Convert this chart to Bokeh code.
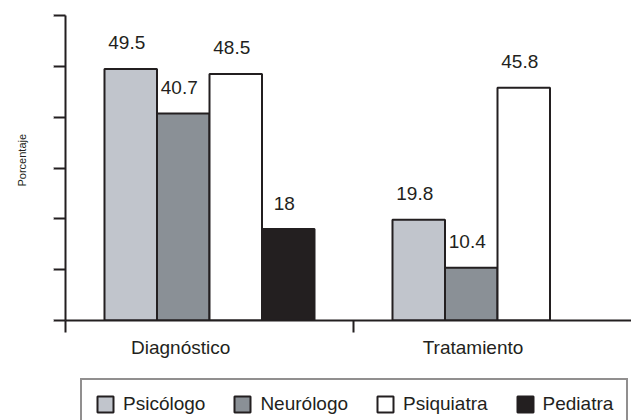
from bokeh.plotting import figure
from bokeh.layouts import column
from bokeh.models import ColumnDataSource, FixedTicker, Range1d, Legend, LegendItem, Title, LinearAxis
from bokeh.embed import file_html
from bokeh.resources import INLINE
from bokeh.core.properties import value
import math

categories = ["Diagnóstico", "Tratamiento"]
series = ["Psicólogo", "Neurólogo", "Psiquiatra", "Pediatra"]
psicologo = [49.5, 19.8]
neurologo = [40.7, 10.4]
psiquiatra = [48.5, 45.8]
pediatra = [18.0, float("nan")]
y_ticks = [0, 10, 20, 30, 40, 50, 60]
y_title = "Porcentaje"

values = [psicologo, neurologo, psiquiatra, pediatra]
colors = ["#c1c5cc", "#8a9096", "#ffffff", "#231f20"]
INK = "#231f20"
FONT = "Liberation Sans"
FS = "19px"

BAR_W = 0.1823
FIRST = 0.5 - 1.5 * BAR_W

p = figure(width=631, height=360, output_backend="svg", toolbar_location=None,
           x_range=Range1d(0, (631 - 65) / 288), y_range=Range1d(0, 60),
           min_border_left=65, min_border_right=0, min_border_top=15, min_border_bottom=38)
p.outline_line_color = None
p.xgrid.visible = False
p.ygrid.visible = False
p.background_fill_color = "white"
p.border_fill_color = "white"

for k, (name, vals, col) in enumerate(zip(series, values, colors)):
    xs = [i + FIRST + k * BAR_W for i in range(len(categories))]
    src = ColumnDataSource(dict(x=xs, top=vals))
    p.vbar(x="x", top="top", width=BAR_W, bottom=0, source=src,
           fill_color=col, line_color=INK, line_width=2)
    keep = [j for j, v in enumerate(vals) if not math.isnan(v)]
    lsrc = ColumnDataSource(dict(x=[xs[j] for j in keep], y=[vals[j] for j in keep],
                                 label=[f"{vals[j]:g}" for j in keep]))
    p.text(x="x", y="y", text="label", source=lsrc, text_align="center",
           text_baseline="alphabetic", y_offset=-26, x_offset=-4,
           text_font=value(FONT), text_font_size=FS, text_color=INK)

# y axis
ya = p.yaxis[0]
ya.ticker = FixedTicker(ticks=y_ticks)
ya.major_label_overrides = {t: "" for t in y_ticks}
ya.major_label_standoff = 0
ya.major_tick_out = 12
ya.major_tick_in = 0
ya.minor_tick_line_color = None
ya.axis_line_width = 2
ya.major_tick_line_width = 2
ya.axis_line_color = INK
ya.major_tick_line_color = INK

# blank spacer axis (white ticks on white) that keeps the y title away from the axis
spacer = LinearAxis(ticker=FixedTicker(ticks=y_ticks),
                    major_label_overrides={t: "" for t in y_ticks},
                    major_label_standoff=0, major_tick_out=13, major_tick_in=0,
                    major_tick_line_color="white", minor_tick_line_color=None,
                    axis_line_color=None)
p.add_layout(spacer, "left")

p.add_layout(Title(text=y_title, text_font=FONT, text_font_size="11px",
                   text_font_style="normal", text_color=INK, align="left",
                   offset=134, standoff=26), "left")

# x axis
label_pos = [0.40, 1.415]
xa = p.xaxis[0]
xa.ticker = FixedTicker(ticks=label_pos, minor_ticks=[0, 1])
xa.major_label_overrides = {label_pos[i]: c for i, c in enumerate(categories)}
xa.major_tick_line_color = None
xa.major_tick_out = 0
xa.major_tick_in = 0
xa.minor_tick_out = 12
xa.minor_tick_in = 0
xa.minor_tick_line_width = 2
xa.minor_tick_line_color = INK
xa.axis_line_width = 2
xa.axis_line_color = INK
xa.major_label_text_font = FONT
xa.major_label_text_font_size = FS
xa.major_label_text_color = INK
xa.major_label_standoff = 4

# legend strip
q = figure(width=631, height=60, output_backend="svg", toolbar_location=None,
           x_range=Range1d(0, 1), y_range=Range1d(0, 1),
           x_axis_location=None, y_axis_location=None,
           min_border_left=0, min_border_right=0, min_border_top=0, min_border_bottom=0)
q.outline_line_color = None
q.xgrid.visible = False
q.ygrid.visible = False
q.background_fill_color = "white"
q.border_fill_color = "white"
items = []
for name, col in zip(series, colors):
    # tiny swatch renderer hidden behind the opaque legend box; only feeds the legend key
    r = q.vbar(x=[0.5], top=[0.2], bottom=[0.15], width=0.005,
               fill_color=col, line_color=INK, line_width=2)
    items.append(LegendItem(label=name, renderers=[r]))

legend = Legend(items=items, orientation="horizontal", location=(15, -10))
legend.glyph_width = 20
legend.glyph_height = 20
legend.label_standoff = 8
legend.spacing = 27
legend.padding = 13
legend.margin = 0
legend.label_text_font = FONT
legend.label_text_font_size = FS
legend.label_text_color = INK
legend.border_line_color = INK
legend.border_line_width = 2
legend.background_fill_alpha = 1
legend.background_fill_color = "white"
q.add_layout(legend, "center")

layout = column(p, q, spacing=0)
open("out.html", "w").write(file_html(layout, INLINE))
